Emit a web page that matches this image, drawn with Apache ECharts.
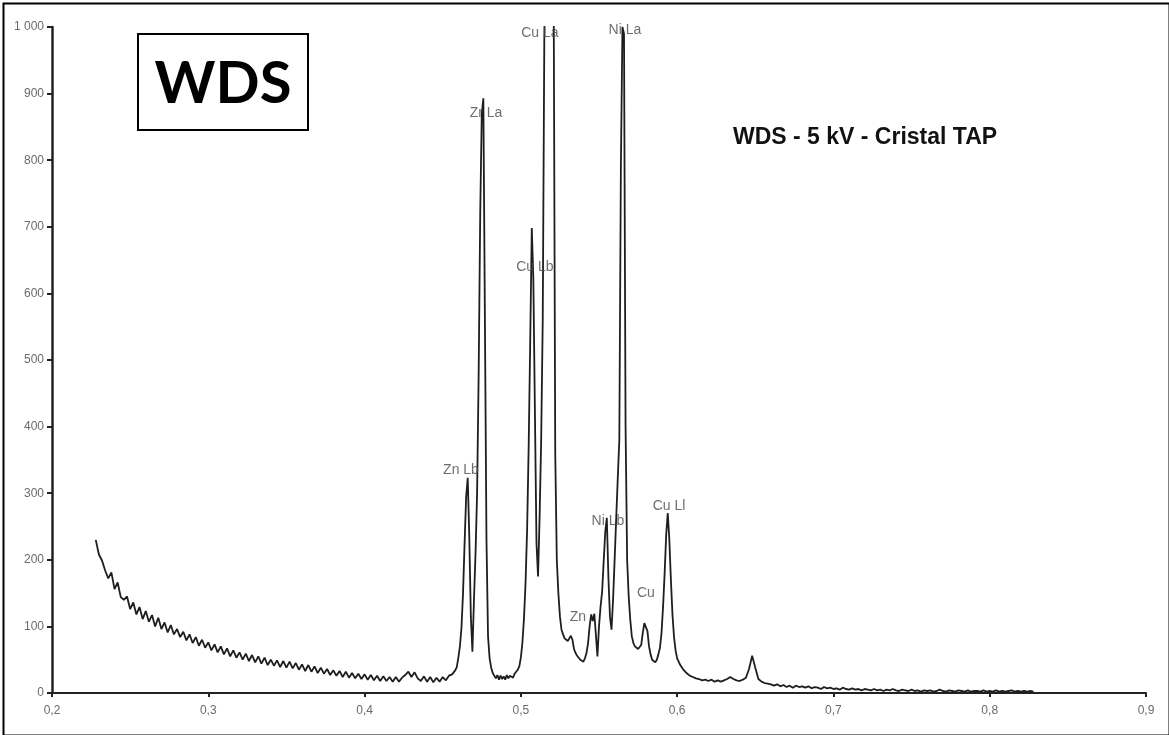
<!DOCTYPE html>
<html>
<head>
<meta charset="utf-8">
<title>WDS spectrum</title>
<script src="https://cdn.jsdelivr.net/npm/echarts@6.0.0/dist/echarts.min.js"></script>
<style>
  html, body { margin: 0; padding: 0; background: #fff; }
  #chart { width: 1169px; height: 735px; }
</style>
</head>
<body>
<div id="chart"></div>
<script>
// spectrum, split in 3 parts (coarser step in the background)
const bgEnergy = [
  0.228,0.230,0.232,0.234,0.236,0.238,0.240,0.242,0.244,0.246,
  0.248,0.250,0.252,0.254,0.256,0.258,0.260,0.262,0.264,0.266,
  0.268,0.270,0.272,0.274,0.276,0.278,0.280,0.282,0.284,0.286,
  0.288,0.290,0.292,0.294,0.296,0.298,0.300,0.302,0.304,0.306,
  0.308,0.310,0.312,0.314,0.316,0.318,0.320,0.322,0.324,0.326,
  0.328,0.330,0.332,0.334,0.336,0.338,0.340,0.342,0.344,0.346,
  0.348,0.350,0.352,0.354,0.356,0.358,0.360,0.362,0.364,0.366,
  0.368,0.370,0.372,0.374,0.376,0.378,0.380,0.382,0.384,0.386,
  0.388,0.390,0.392,0.394,0.396,0.398,0.400,0.402,0.404,0.406,
  0.408,0.410,0.412,0.414,0.416,0.418,0.420,0.422,0.424,0.426,
  0.428,0.430,0.432,0.434,0.436,0.438,0.440,0.442,0.444,0.446,
  0.448,0.450,0.452,0.454
];
const bgCounts = [
  230,208,199,184,172,181,156,166,144,140,
  145,126,136,118,129,111,123,107,117,100,
  113,96,106,91,102,88,96,84,92,79,
  88,75,84,71,80,68,76,64,73,61,
  70,58,67,55,64,53,61,50,59,48,
  57,46,55,44,53,42,50,41,49,39,
  48,38,47,37,45,35,43,33,42,32,
  40,30,38,29,36,27,34,26,33,24,
  32,23,30,22,29,21,28,20,27,19,
  26,18,25,18,24,17,24,17,23,27,
  32,24,31,22,18,25,17,24,16,23,
  17,24,19,26
];

const peakEnergy = [
  0.455,0.456,0.457,0.458,0.459,0.460,0.461,0.462,0.463,0.464,
  0.465,0.466,0.467,0.468,0.469,0.470,0.471,0.472,0.473,0.474,
  0.475,0.476,0.477,0.478,0.479,0.480,0.481,0.482,0.483,0.484,
  0.485,0.486,0.487,0.488,0.489,0.490,0.491,0.492,0.493,0.494,
  0.495,0.496,0.497,0.498,0.499,0.500,0.501,0.502,0.503,0.504,
  0.505,0.506,0.507,0.508,0.509,0.510,0.511,0.512,0.513,0.514,
  0.515,0.516,0.517,0.518,0.519,0.520,0.521,0.522,0.523,0.524,
  0.525,0.526,0.527,0.528,0.529,0.530,0.531,0.532,0.533,0.534,
  0.535,0.536,0.537,0.538,0.539,0.540,0.541,0.542,0.543,0.544,
  0.545,0.546,0.547,0.548,0.549,0.550,0.551,0.552,0.553,0.554,
  0.555,0.556,0.557,0.558,0.559,0.560,0.561,0.562,0.563,0.564,
  0.565,0.566,0.567,0.568,0.569,0.570,0.571,0.572,0.573,0.574,
  0.575,0.576,0.577,0.578,0.579,0.580,0.581,0.582,0.583,0.584,
  0.585,0.586,0.587,0.588,0.589,0.590,0.591,0.592,0.593,0.594,
  0.595,0.596,0.597,0.598,0.599,0.600
];
const peakCounts = [
  23,28,27,34,39,53,70,98,150,225,
  295,323,235,115,62,140,210,300,480,720,
  870,893,560,230,85,52,38,30,27,22,
  27,20,26,21,25,20,27,22,26,25,
  23,29,28,35,40,53,76,112,165,245,
  370,530,698,620,420,225,175,265,380,560,
  980,1200,1300,1350,1300,1200,1050,360,200,150,
  115,95,88,82,80,78,82,86,80,66,
  60,56,53,50,48,47,52,60,75,100,
  118,108,119,88,55,100,130,152,198,242,
  263,175,115,95,140,200,262,322,380,790,
  1000,990,400,200,145,110,85,75,70,68,
  66,64,72,90,105,107,93,70,58,50,
  47,46,50,58,68,90,130,180,238,270,
  230,170,118,84,64,52
];

const tailEnergy = [
  0.602,0.604,0.606,0.608,0.610,0.612,0.614,0.616,0.618,0.620,
  0.622,0.624,0.626,0.628,0.630,0.632,0.634,0.636,0.638,0.640,
  0.642,0.644,0.646,0.648,0.650,0.652,0.654,0.656,0.658,0.660,
  0.662,0.664,0.666,0.668,0.670,0.672,0.674,0.676,0.678,0.680,
  0.682,0.684,0.686,0.688,0.690,0.692,0.694,0.696,0.698,0.700,
  0.702,0.704,0.706,0.708,0.710,0.712,0.714,0.716,0.718,0.720,
  0.722,0.724,0.726,0.728,0.730,0.732,0.734,0.736,0.738,0.740,
  0.742,0.744,0.746,0.748,0.750,0.752,0.754,0.756,0.758,0.760,
  0.762,0.764,0.766,0.768,0.770,0.772,0.774,0.776,0.778,0.780,
  0.782,0.784,0.786,0.788,0.790,0.792,0.794,0.796,0.798,0.800,
  0.802,0.804,0.806,0.808,0.810,0.812,0.814,0.816,0.818,0.820,
  0.822,0.824,0.826,0.828
];
const tailCounts = [
  42,35,30,26,24,22,21,19,20,18,
  20,17,19,17,19,21,24,21,19,18,
  20,23,36,56,38,21,17,15,14,13,
  11,13,10,12,9,11,8,11,9,10,
  8,10,7,9,8,6,9,7,8,6,
  7,5,8,6,5,7,5,6,4,6,
  5,4,6,4,5,3,5,4,6,4,
  3,5,4,3,5,3,4,2,4,3,
  4,2,3,5,3,2,4,3,2,4,
  3,2,4,2,3,3,2,4,2,3,
  2,4,2,3,2,3,4,2,3,2,
  3,2,3,2
];

// line names and where their text sits (data units)
const peakNames = ['Cu La', 'Ni La', 'Zr La', 'Cu Lb', 'Zn Lb', 'Ni Lb', 'Cu Ll', 'Zn', 'Cu'];
const peakLabelEnergy = [0.5122, 0.5666, 0.4777, 0.5090, 0.4617, 0.5557, 0.5948, 0.5365, 0.5800];
const peakLabelCounts = [991, 995, 871, 640, 335, 258, 281, 114, 150];

const xTicks = { min: 0.2, max: 0.9, step: 0.1 };
const yTicks = { min: 0, max: 1000, step: 100 };

const spectrum = [];
[[bgEnergy, bgCounts], [peakEnergy, peakCounts], [tailEnergy, tailCounts]].forEach(([xs, ys]) => {
  xs.forEach((x, i) => spectrum.push([x, ys[i]]));
});
const labelData = peakNames.map((n, i) => ({ name: n, value: [peakLabelEnergy[i], peakLabelCounts[i]] }));

const chart = echarts.init(document.getElementById('chart'), null, { renderer: 'canvas' });

const axisFont = { color: '#6a6a6a', fontSize: 12, fontFamily: 'Liberation Sans, Arial, sans-serif' };

const option = {
  backgroundColor: '#fff',
  animation: false,
  grid: { left: 52, right: 23, top: 27, bottom: 42, containLabel: false },
  xAxis: {
    type: 'value',
    min: xTicks.min, max: xTicks.max, interval: xTicks.step,
    axisLine: { show: true, lineStyle: { color: '#222', width: 2 } },
    axisTick: { show: true, length: 4, lineStyle: { color: '#222', width: 2 } },
    splitLine: { show: false },
    axisLabel: {
      ...axisFont, margin: 12,
      formatter: v => v.toFixed(1).replace('.', ',')
    }
  },
  yAxis: {
    type: 'value',
    min: yTicks.min, max: yTicks.max, interval: yTicks.step,
    axisLine: { show: true, lineStyle: { color: '#222', width: 2.5 } },
    axisTick: { show: true, length: 5, lineStyle: { color: '#222', width: 2 } },
    splitLine: { show: false },
    axisLabel: {
      ...axisFont, margin: 8,
      formatter: v => v >= 1000 ? String(v).replace(/(\d)(\d{3})$/, '$1 $2') : String(v)
    }
  },
  series: [
    {
      name: 'WDS',
      type: 'line',
      data: spectrum,
      showSymbol: false,
      clip: true,
      sampling: null,
      lineStyle: { color: '#1e1e1e', width: 1.8 },
      z: 2
    },
    {
      name: 'raies',
      type: 'scatter',
      data: labelData,
      symbolSize: 1,
      itemStyle: { color: 'rgba(0,0,0,0)' },
      label: {
        show: true,
        position: 'inside',
        formatter: '{b}',
        color: '#4a4a4a',
        fontSize: 14,
        fontFamily: 'Liberation Sans, Arial, sans-serif'
      },
      z: 3
    }
  ],
  graphic: [
    // outer frame of the figure
    { type: 'rect', left: 1, top: 1, shape: { width: 1166, height: 732 }, style: { fill: 'none', stroke: '#000', lineWidth: 2 }, silent: true },
    {
      type: 'group', left: 137, top: 33,
      children: [
        { type: 'rect', shape: { x: 0, y: 0, width: 170, height: 96 }, style: { fill: '#fff', stroke: '#000', lineWidth: 2 } },
        { type: 'text', x: 85, y: 50, style: { text: 'WDS', font: 'bold 58px Lato, "Open Sans", sans-serif', fill: '#000', textAlign: 'center', textVerticalAlign: 'middle' } }
      ]
    },
    {
      type: 'text', left: 733, top: 126,
      style: { text: 'WDS - 5 kV - Cristal TAP', font: 'bold 23px "Liberation Sans", Arial, sans-serif', fill: '#111' }
    }
  ]
};

chart.setOption(option);
</script>
</body>
</html>
